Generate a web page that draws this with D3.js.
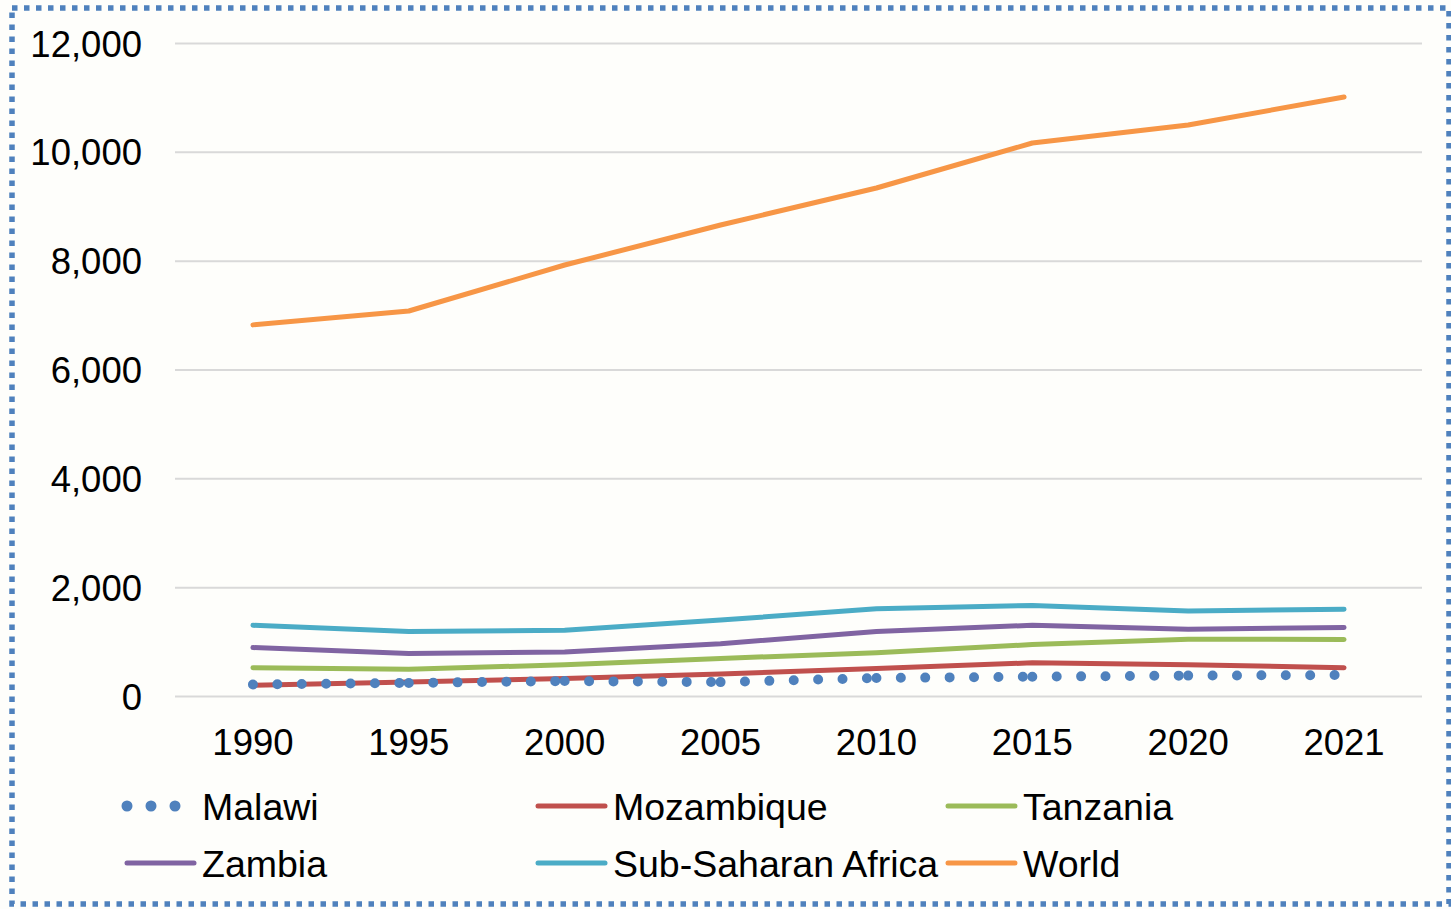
<!doctype html>
<html>
<head>
<meta charset="utf-8">
<title>Line chart</title>
<style>
  body { margin: 0; background: #fefefb; }
  svg { display: block; }
  text { font-family: "Liberation Sans", Arial, sans-serif; fill: #000; }
  .grid line { stroke: #d9d9d9; stroke-width: 2; }
</style>
<script src="https://cdn.jsdelivr.net/npm/d3@7"></script>
</head>
<body>
<svg width="1451" height="909"></svg>
<script>
var years = ["1990", "1995", "2000", "2005", "2010", "2015", "2020", "2021"];
var malawi = [210, 240, 275, 255, 330, 355, 375, 385];
var mozambique = [195, 255, 320, 405, 505, 610, 575, 520];
var tanzania = [520, 490, 575, 690, 795, 945, 1045, 1040];
var zambia = [890, 780, 810, 960, 1185, 1300, 1225, 1260];
var ssa = [1300, 1185, 1210, 1395, 1605, 1665, 1560, 1595];
var world = [6820, 7075, 7920, 8655, 9335, 10162, 10493, 11007];
var yTicks = [0, 2000, 4000, 6000, 8000, 10000, 12000];

var series = [
  {name: "Malawi", values: malawi, color: "#4f81bd", dotted: true},
  {name: "Mozambique", values: mozambique, color: "#c0504d"},
  {name: "Tanzania", values: tanzania, color: "#9bbb59"},
  {name: "Zambia", values: zambia, color: "#8064a2"},
  {name: "Sub-Saharan Africa", values: ssa, color: "#4bacc6"},
  {name: "World", values: world, color: "#f79646"}
];

var svg = d3.select("svg");

// dotted frame
svg.append("rect")
  .attr("x", 12).attr("y", 8)
  .attr("width", 1437).attr("height", 896)
  .attr("fill", "none")
  .attr("stroke", "#4f81bd")
  .attr("stroke-width", 5.5)
  .attr("stroke-dasharray", "5.5,6.5");

var plotL = 175, plotR = 1422, plotT = 43, plotB = 696;

var x = d3.scaleBand().domain(years).range([plotL, plotR]);
var y = d3.scaleLinear().domain([0, 12000]).range([plotB, plotT]);
var cx = function(d) { return x(d) + x.bandwidth() / 2; };

// gridlines + y labels
var gy = svg.append("g")
  .attr("class", "grid")
  .attr("transform", "translate(" + plotL + ",0)")
  .call(d3.axisLeft(y).tickValues(yTicks).tickFormat(d3.format(","))
    .tickSize(-(plotR - plotL)).tickPadding(33));
gy.select(".domain").remove();
gy.selectAll("text").attr("font-size", 36.5).attr("dy", "0.36em")
  .style("font-family", "'Liberation Sans', Arial, sans-serif");

// x labels
var gx = svg.append("g")
  .attr("transform", "translate(0," + plotB + ")")
  .call(d3.axisBottom(x).tickSize(0).tickPadding(33));
gx.select(".domain").remove();
gx.selectAll("text").attr("font-size", 36.5)
  .style("font-family", "'Liberation Sans', Arial, sans-serif");

var line = d3.line()
  .x(function(d, i) { return cx(years[i]); })
  .y(function(d) { return y(d); });

// draw series, world last on top
var drawOrder = [4, 3, 2, 1, 0, 5];
drawOrder.forEach(function(k) {
  var s = series[k];
  if (s.dotted) {
    // Excel restarts the dash pattern on every segment
    for (var i = 0; i < s.values.length - 1; i++) {
      svg.append("path")
        .attr("d", "M" + cx(years[i]) + "," + y(s.values[i]) +
                   "L" + cx(years[i + 1]) + "," + y(s.values[i + 1]))
        .attr("fill", "none")
        .attr("stroke", s.color)
        .attr("stroke-width", 10)
        .attr("stroke-linecap", "round")
        .attr("stroke-dasharray", "0,24.4");
    }
  } else {
    svg.append("path")
      .datum(s.values)
      .attr("d", line)
      .attr("fill", "none")
      .attr("stroke", s.color)
      .attr("stroke-width", 5)
      .attr("stroke-linecap", "round")
      .attr("stroke-linejoin", "round");
  }
});

// legend
var legX = [124, 535, 945];
var legY = [806, 863];
series.forEach(function(s, i) {
  var lx = legX[i % 3], ly = legY[Math.floor(i / 3)];
  var g = svg.append("g");
  if (s.dotted) {
    g.append("path")
      .attr("d", "M" + (lx + 3) + "," + ly + "L" + (lx + 60) + "," + ly)
      .attr("stroke", s.color)
      .attr("stroke-width", 11)
      .attr("stroke-linecap", "round")
      .attr("stroke-dasharray", "0,24");
  } else {
    g.append("path")
      .attr("d", "M" + (lx + 3) + "," + ly + "L" + (lx + 70) + "," + ly)
      .attr("stroke", s.color)
      .attr("stroke-width", 5)
      .attr("stroke-linecap", "round");
  }
  g.append("text")
    .attr("x", lx + 78)
    .attr("y", ly + 14)
    .attr("font-size", 37.5)
    .text(s.name);
});
</script>
</body>
</html>
